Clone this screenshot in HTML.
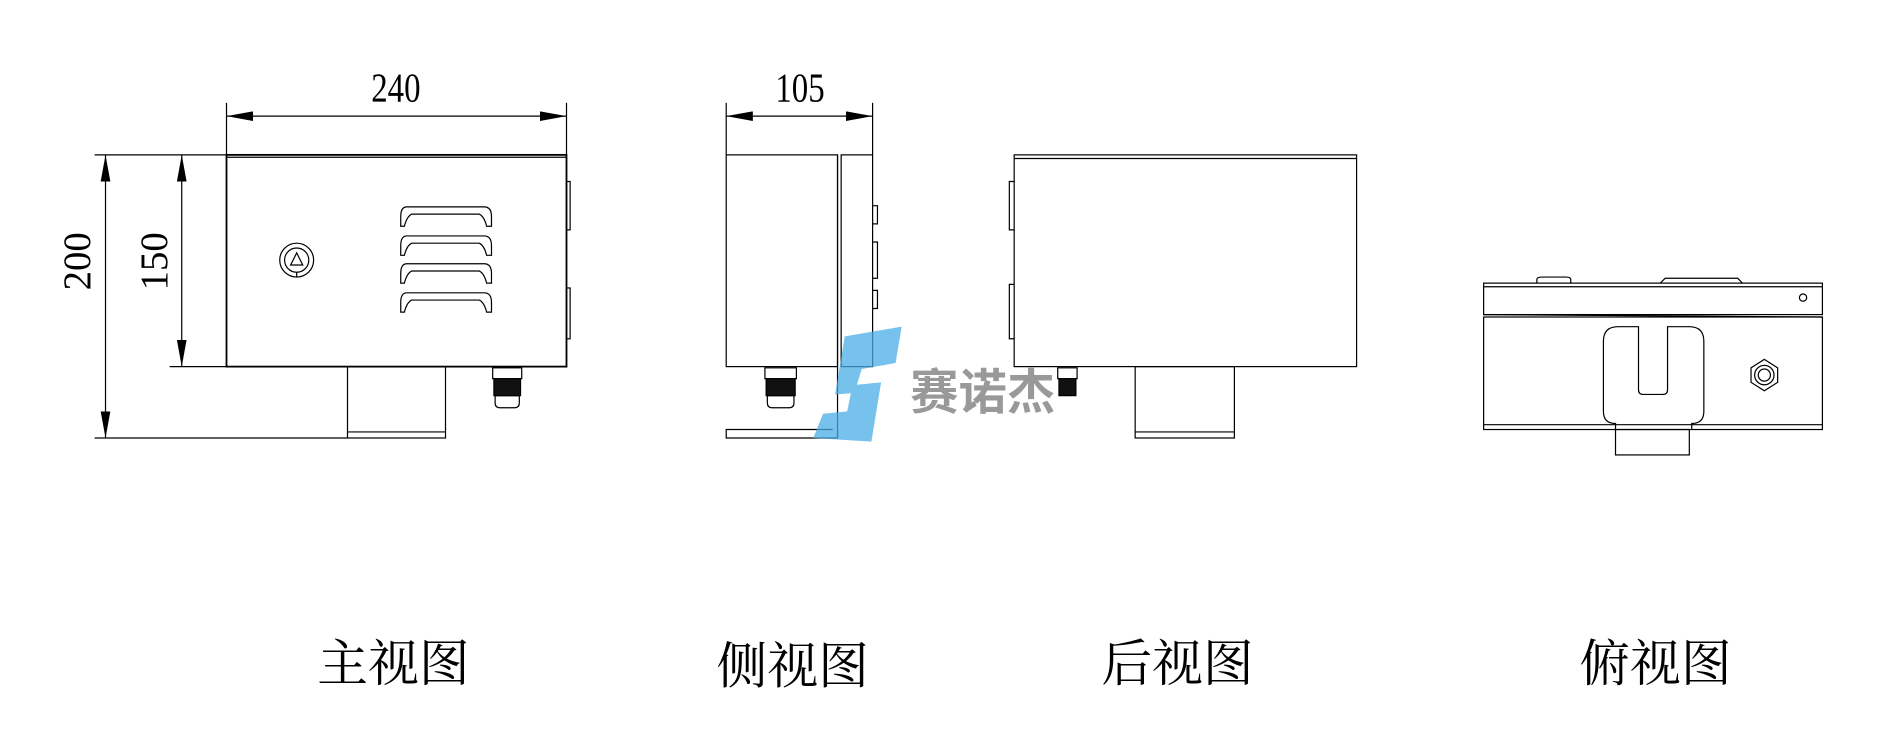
<!DOCTYPE html>
<html><head><meta charset="utf-8"><style>
html,body{margin:0;padding:0;background:#fff;width:1888px;height:755px;overflow:hidden}
svg{display:block}
text{font-family:"Liberation Serif","Noto Serif CJK SC",serif}
</style></head><body>
<svg width="1888" height="755" viewBox="0 0 1560 624" xmlns="http://www.w3.org/2000/svg">
<defs>
<marker id="a" viewBox="0 0 10 10" refX="10" refY="5" markerWidth="22" markerHeight="8" markerUnits="userSpaceOnUse" orient="auto-start-reverse" preserveAspectRatio="none"><path d="M0,0L10,5L0,10z" fill="#000"/></marker>
</defs>
<g fill="none" stroke="#000" stroke-width="1">
<line x1="187" y1="85" x2="187" y2="128"/><line x1="468" y1="85" x2="468" y2="128"/>
<line x1="187" y1="96" x2="468" y2="96" marker-start="url(#a)" marker-end="url(#a)"/>
<line x1="600" y1="85" x2="600" y2="128"/><line x1="721" y1="85" x2="721" y2="128"/>
<line x1="600" y1="96" x2="721" y2="96" marker-start="url(#a)" marker-end="url(#a)"/>
<line x1="78" y1="128" x2="187" y2="128"/>
<line x1="78" y1="362" x2="287" y2="362"/>
<line x1="140" y1="303" x2="187" y2="303"/>
<line x1="87" y1="128" x2="87" y2="362" marker-start="url(#a)" marker-end="url(#a)"/>
<line x1="150" y1="128" x2="150" y2="303" marker-start="url(#a)" marker-end="url(#a)"/>
<rect x="187" y="128" width="281" height="175" stroke-width="1.5"/>
<line x1="187" y1="130" x2="468" y2="130"/>
<rect x="468" y="150" width="3" height="40"/><rect x="468" y="238" width="3" height="42"/>
<circle cx="245" cy="215" r="14"/><circle cx="245" cy="215" r="10"/>
<path d="M245,209 L250,219 L240,219Z"/><line x1="245" y1="225" x2="245" y2="229"/>
<g>
<path d="M336,171 H400 Q406,171 406,179 V187 H402 Q400,179 396,177 H340 Q336,179 334,187 H331 V179 Q331,171 336,171Z"/>
<path d="M336,195 H400 Q406,195 406,203 V211 H402 Q400,203 396,201 H340 Q336,203 334,211 H331 V203 Q331,195 336,195Z"/>
<path d="M336,218 H400 Q406,218 406,226 V234 H402 Q400,226 396,224 H340 Q336,226 334,234 H331 V226 Q331,218 336,218Z"/>
<path d="M336,242 H400 Q406,242 406,250 V258 H402 Q400,250 396,248 H340 Q336,250 334,258 H331 V250 Q331,242 336,242Z"/>
</g>
<rect x="287" y="303" width="81" height="59"/><line x1="287" y1="357" x2="368" y2="357"/>
<rect x="407" y="304" width="24" height="9"/>
<rect x="408" y="313" width="22" height="14" fill="#111"/>
<path d="M409,327 H429 V333 Q429,337 425,337 H413 Q409,337 409,333Z"/>
<rect x="600" y="128" width="92" height="175"/>
<rect x="695" y="128" width="26" height="175"/>
<path d="M692,128 V362 H600 V355 H688"/>
<path d="M721,170 h4 v15 h-4 M721,200 h4 v30 h-4 M721,240 h4 v15 h-4"/>
<rect x="632" y="304" width="26" height="9"/>
<rect x="633" y="313" width="24" height="14" fill="#111"/>
<path d="M634,327 H656 V333 Q656,337 652,337 H638 Q634,337 634,333Z"/>
<rect x="838" y="128" width="283" height="175"/>
<line x1="838" y1="131" x2="1121" y2="131"/>
<path d="M838,150 h-4 v40 h4 M838,235 h-4 v45 h4"/>
<rect x="938" y="303" width="82" height="59"/><line x1="938" y1="357" x2="1020" y2="357"/>
<rect x="874" y="304" width="16" height="9"/>
<rect x="875" y="313" width="14" height="14" fill="#111"/>
<rect x="1226" y="234" width="280" height="26"/>
<line x1="1226" y1="237" x2="1506" y2="237"/>
<path d="M1270,234 v-3 q0,-2 4,-2 h20 q4,0 4,2 v3 M1372,234 l4,-4 h60 l4,4"/>
<circle cx="1490" cy="246" r="3"/>
<rect x="1226" y="262" width="280" height="93"/>
<line x1="1226" y1="351" x2="1506" y2="351"/>
<line x1="1226" y1="260" x2="1506" y2="262"/>
<path d="M1335,355 V350 Q1325,350 1325,340 V282 Q1325,270 1337,270 H1354 V322 Q1354,326 1358,326 H1374 Q1378,326 1378,322 V270 H1396 Q1408,270 1408,282 V340 Q1408,350 1398,350 V355"/>
<rect x="1335" y="355" width="61" height="21"/>
<polygon points="1458,297 1469,304 1469,316 1458,323 1447,316 1447,304"/>
<circle cx="1458" cy="310" r="8"/><circle cx="1458" cy="310" r="5"/>
</g>
<g opacity="0.75">
<path d="M698,278 L745,270 L740,300 L712,305 L708,318 L728,316 L720,365 L672,362 L680,342 L700,340 L703,325 L690,326 Z" fill="#4aaee6"/>
</g>
<text x="752" y="338" font-size="40" fill="#888" font-weight="bold" style="font-family:'Noto Sans CJK SC',sans-serif" opacity="0.85">赛诺杰</text>
<text x="327" y="84" font-size="34" text-anchor="middle" transform="translate(327 0) scale(0.8 1) translate(-327 0)">240</text>
<text x="661" y="84" font-size="34" text-anchor="middle" transform="translate(661 0) scale(0.8 1) translate(-661 0)">105</text>
<text transform="translate(74 216) rotate(-90)" font-size="32" text-anchor="middle">200</text>
<text transform="translate(138 216) rotate(-90)" font-size="32" text-anchor="middle">150</text>
<g font-size="42" text-anchor="middle" style="font-family:'Noto Serif CJK SC',serif">
<text x="325" y="563">主视图</text>
<text x="655" y="565">侧视图</text>
<text x="973" y="563">后视图</text>
<text x="1368" y="563">俯视图</text>
</g>
</svg>
</body></html>
